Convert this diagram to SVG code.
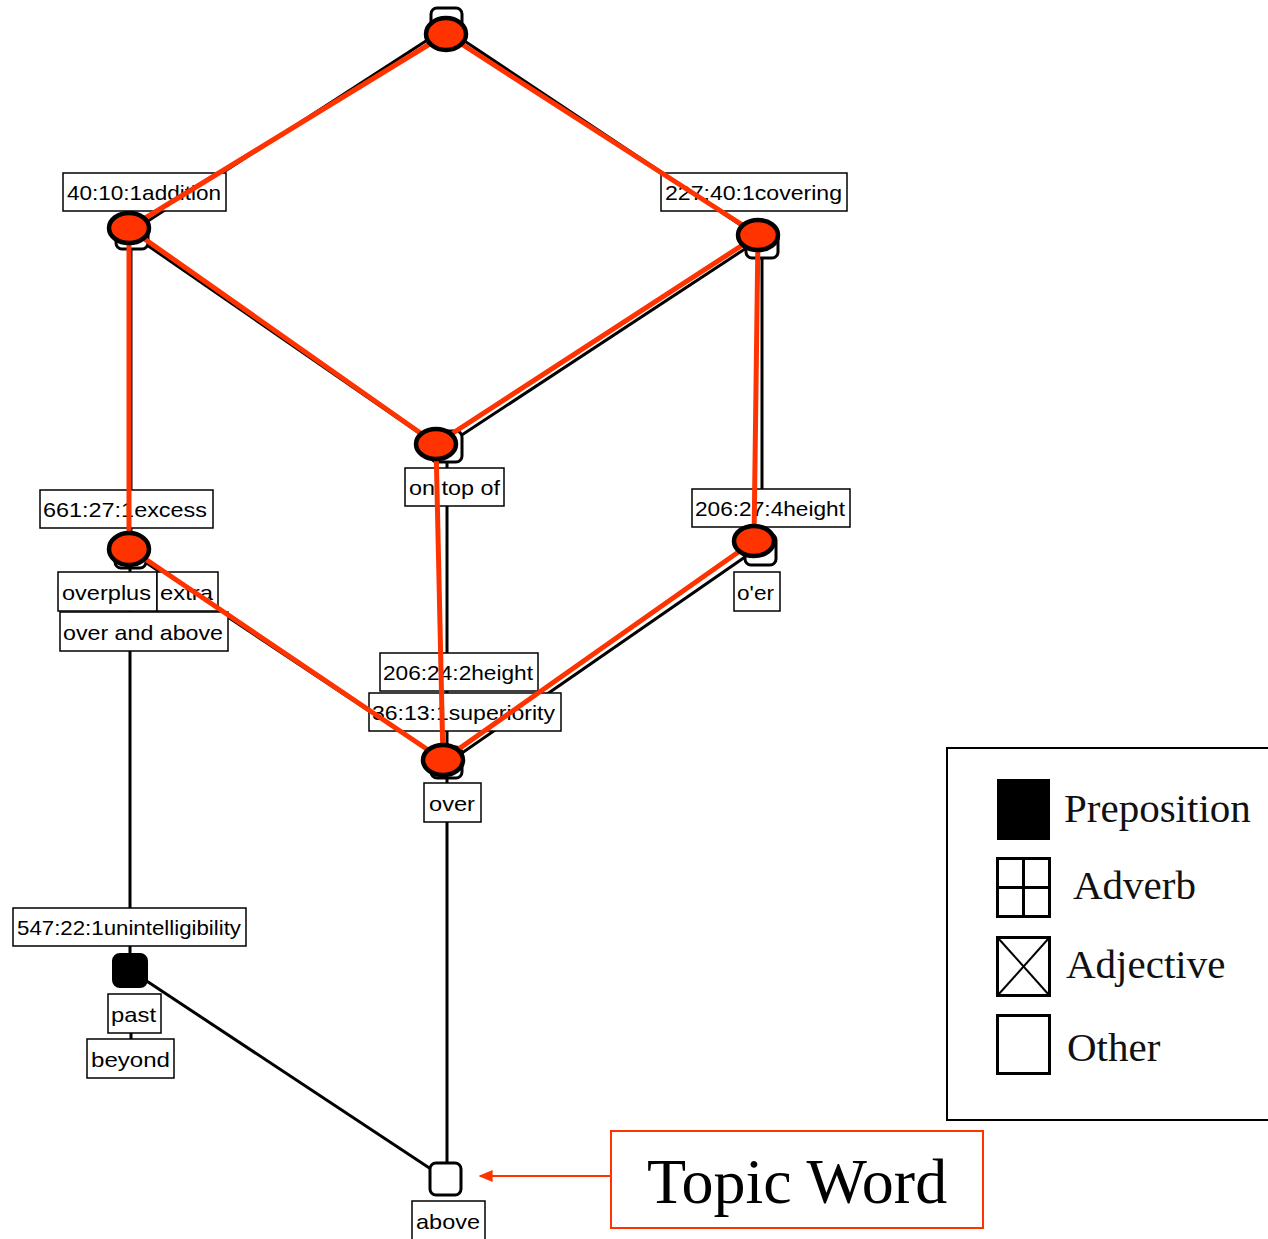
<svg xmlns="http://www.w3.org/2000/svg" width="1268" height="1239" viewBox="0 0 1268 1239">
<style>
.bl{stroke:#000;stroke-width:3;fill:none}
.rd{stroke:#ff3300;stroke-width:5;fill:none;stroke-linecap:round}
.sq{fill:#fff;stroke:#000;stroke-width:3}
.el{fill:#ff3300;stroke:#000;stroke-width:4.5}
.lb rect{fill:#fff;stroke:#000;stroke-width:1.5}
.lb text{font-family:"Liberation Sans",Arial,sans-serif;font-size:21px;fill:#000}
.lg{font-family:"Liberation Serif","Times New Roman",serif;font-size:41px;fill:#111}
</style>
<defs>
<marker id="ah" viewBox="0 0 10 10" refX="9" refY="5" markerWidth="14" markerHeight="12" orient="auto-start-reverse" markerUnits="userSpaceOnUse" preserveAspectRatio="none">
<path d="M0,0 L10,5 L0,10 z" fill="#ff3300"/>
</marker>
</defs>
<rect width="1268" height="1239" fill="#fff"/>
<g id="black-connectors">
<line class="bl" x1="446" y1="28" x2="131" y2="232"/>
<line class="bl" x1="448" y1="30" x2="760" y2="238"/>
<line class="bl" x1="131" y1="234" x2="444" y2="450"/>
<line class="bl" x1="760" y1="239" x2="442" y2="448"/>
<line class="bl" x1="131" y1="236" x2="131" y2="553"/>
<line class="bl" x1="762" y1="244" x2="762" y2="551"/>
<line class="bl" x1="447" y1="450" x2="447" y2="763"/>
<line class="bl" x1="133" y1="554" x2="446" y2="762"/>
<line class="bl" x1="758" y1="548" x2="449" y2="762"/>
<line class="bl" x1="447" y1="763" x2="447" y2="1179"/>
<line class="bl" x1="130" y1="556" x2="130" y2="970"/>
<line class="bl" x1="130" y1="970" x2="446" y2="1179"/>
<line class="bl" x1="131" y1="1033" x2="131" y2="1039"/>
</g>
<g id="node-top"><rect class="sq" x="431" y="8" width="31" height="31" rx="6"/></g>
<g id="node-addition-sq"><rect class="sq" x="116" y="218" width="32" height="31" rx="6"/></g>
<g id="node-covering-sq"><rect class="sq" x="746" y="227" width="32" height="31" rx="6"/></g>
<g id="node-ontopof-sq"><rect class="sq" x="431" y="431" width="31" height="31" rx="6"/></g>
<g id="node-excess-sq"><rect class="sq" x="115" y="537" width="31" height="31" rx="6"/></g>
<g id="node-height-sq"><rect class="sq" x="745" y="534" width="31" height="31" rx="6"/></g>
<g id="node-over-sq"><rect class="sq" x="431" y="747" width="31" height="31" rx="6"/></g>
<g id="node-past"><rect x="113" y="954" width="34" height="33" rx="7" fill="#000" stroke="#000" stroke-width="2"/></g>
<g id="node-above"><rect class="sq" x="430" y="1163" width="31" height="32" rx="6"/></g>
<g id="labels" class="lb">
<g id="lb-addition"><rect x="63" y="173" width="163" height="38"/><text x="67" y="200" textLength="154" lengthAdjust="spacingAndGlyphs">40:10:1addition</text></g>
<g id="lb-covering"><rect x="661" y="173" width="186" height="38"/><text x="665" y="200" textLength="177" lengthAdjust="spacingAndGlyphs">227:40:1covering</text></g>
<g id="lb-ontopof"><rect x="405" y="468" width="99" height="38"/><text x="409" y="495" textLength="91" lengthAdjust="spacingAndGlyphs">on top of</text></g>
<g id="lb-excess"><rect x="40" y="490" width="173" height="38"/><text x="43" y="517" textLength="164" lengthAdjust="spacingAndGlyphs">661:27:1excess</text></g>
<g id="lb-overplus"><rect x="58" y="572" width="99" height="39"/><text x="62" y="600" textLength="89" lengthAdjust="spacingAndGlyphs">overplus</text></g>
<g id="lb-extra"><rect x="157" y="572" width="61" height="39"/><text x="160" y="600" textLength="53" lengthAdjust="spacingAndGlyphs">extra</text></g>
<g id="lb-overandabove"><rect x="60" y="612" width="168" height="39"/><text x="63" y="640" textLength="160" lengthAdjust="spacingAndGlyphs">over and above</text></g>
<g id="lb-height4"><rect x="692" y="489" width="158" height="38"/><text x="695" y="516" textLength="150" lengthAdjust="spacingAndGlyphs">206:27:4height</text></g>
<g id="lb-oer"><rect x="734" y="572" width="46" height="39"/><text x="737" y="600" textLength="37" lengthAdjust="spacingAndGlyphs">o'er</text></g>
<g id="lb-height2"><rect x="380" y="653" width="158" height="38"/><text x="383" y="680" textLength="150" lengthAdjust="spacingAndGlyphs">206:24:2height</text></g>
<g id="lb-superiority"><rect x="369" y="693" width="192" height="38"/><text x="372" y="720" textLength="183" lengthAdjust="spacingAndGlyphs">36:13:1superiority</text></g>
<g id="lb-over"><rect x="424" y="783" width="57" height="39"/><text x="429" y="811" textLength="46" lengthAdjust="spacingAndGlyphs">over</text></g>
<g id="lb-unintel"><rect x="13" y="908" width="233" height="38"/><text x="17" y="935" textLength="224" lengthAdjust="spacingAndGlyphs">547:22:1unintelligibility</text></g>
<g id="lb-past"><rect x="108" y="994" width="53" height="39"/><text x="111" y="1022" textLength="45" lengthAdjust="spacingAndGlyphs">past</text></g>
<g id="lb-beyond"><rect x="87" y="1039" width="87" height="39"/><text x="91" y="1067" textLength="79" lengthAdjust="spacingAndGlyphs">beyond</text></g>
<g id="lb-above"><rect x="412" y="1201" width="73" height="40"/><text x="416" y="1229" textLength="64" lengthAdjust="spacingAndGlyphs">above</text></g>
</g>
<g id="red-connectors">
<line class="rd" x1="446" y1="34" x2="129" y2="228"/>
<line class="rd" x1="446" y1="34" x2="758" y2="235"/>
<line class="rd" x1="129" y1="228" x2="436" y2="444"/>
<line class="rd" x1="758" y1="235" x2="436" y2="444"/>
<line class="rd" x1="129" y1="228" x2="129" y2="548"/>
<line class="rd" x1="758" y1="235" x2="754" y2="541"/>
<line class="rd" x1="129" y1="548" x2="443" y2="760"/>
<line class="rd" x1="436" y1="444" x2="443" y2="760"/>
<line class="rd" x1="754" y1="541" x2="443" y2="760"/>
</g>
<g id="red-nodes">
<ellipse class="el" cx="446" cy="34" rx="20" ry="16"/>
<ellipse class="el" cx="129" cy="228" rx="20" ry="15"/>
<ellipse class="el" cx="758" cy="235" rx="20" ry="15"/>
<ellipse class="el" cx="436" cy="444" rx="20" ry="15"/>
<ellipse class="el" cx="129" cy="549" rx="20" ry="16"/>
<ellipse class="el" cx="754" cy="541" rx="20" ry="15"/>
<ellipse class="el" cx="443" cy="760" rx="20" ry="15"/>
</g>
<g id="legend">
<rect x="947" y="748" width="330" height="372" fill="#fff" stroke="#000" stroke-width="2"/>
<rect x="997" y="779" width="53" height="61" fill="#000"/>
<g fill="none" stroke="#000" stroke-width="3">
<rect x="997.5" y="858.5" width="52" height="58"/>
<line x1="1023.5" y1="858" x2="1023.5" y2="917"/>
<line x1="997" y1="887.5" x2="1050" y2="887.5"/>
<rect x="997.5" y="937.5" width="52" height="58"/>
<line x1="998" y1="938" x2="1049" y2="995" stroke-width="2"/>
<line x1="1049" y1="938" x2="998" y2="995" stroke-width="2"/>
<rect x="997.5" y="1015.5" width="52" height="58"/>
</g>
<text class="lg" x="1064" y="822">Preposition</text>
<text class="lg" x="1073" y="899">Adverb</text>
<text class="lg" x="1066" y="978">Adjective</text>
<text class="lg" x="1067" y="1061">Other</text>
</g>
<g id="topic-word">
<rect x="611" y="1131" width="372" height="97" fill="#fff" stroke="#ff3300" stroke-width="2"/>
<text x="797" y="1203" text-anchor="middle" font-family="Liberation Serif,'Times New Roman',serif" font-size="64" fill="#000">Topic Word</text>
</g>
<g id="arrow">
<line x1="610" y1="1176" x2="480" y2="1176" stroke="#ff3300" stroke-width="2" marker-end="url(#ah)"/>
</g>
</svg>
